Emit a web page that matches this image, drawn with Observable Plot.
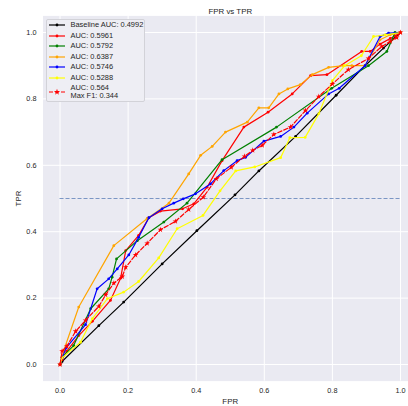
<!DOCTYPE html>
<html><head><meta charset="utf-8">
<script src="https://cdn.jsdelivr.net/npm/d3@7"></script>
<script src="https://cdn.jsdelivr.net/npm/@observablehq/plot@0.6"></script>
<style>
html,body{margin:0;padding:0;background:#fff;overflow:hidden;}
#wrap{position:relative;width:408px;height:406px;font-family:"Liberation Sans",Arial,sans-serif;color:#262626;}
#legend{position:absolute;left:46px;top:19px;width:99px;height:83px;box-sizing:border-box;border:1px solid #d2d2d8;border-radius:2px;background:#eeeef4;}
.row{position:absolute;left:0;height:10px;display:flex;align-items:center;font-size:7.45px;line-height:7.8px;white-space:pre;}
.row svg{margin-left:1.5px;margin-right:6px;flex:none;}
</style></head><body><div id="wrap"></div>
<script>
// ---- data ----
const baselineFPR = [0, 0.006, 0.114, 0.187, 0.30, 0.402, 0.514, 0.584, 0.692, 0.811, 0.896, 0.95, 1.0];
const baselineTPR = [0, 0.009, 0.117, 0.188, 0.303, 0.403, 0.511, 0.583, 0.687, 0.811, 0.90, 0.953, 1.0];

const redFPR = [0, 0.006, 0.02, 0.055, 0.095, 0.148, 0.178, 0.193, 0.231, 0.261, 0.295, 0.36, 0.393, 0.432, 0.476, 0.54, 0.611, 0.682, 0.736, 0.784, 0.886, 0.911, 0.94, 0.97, 0.985, 1.0];
const redTPR = [0, 0.015, 0.04, 0.087, 0.13, 0.193, 0.26, 0.343, 0.389, 0.442, 0.462, 0.469, 0.484, 0.534, 0.614, 0.715, 0.76, 0.815, 0.87, 0.873, 0.943, 0.943, 0.965, 0.982, 0.99, 1.0];

const greenFPR = [0, 0.006, 0.04, 0.09, 0.143, 0.153, 0.166, 0.227, 0.305, 0.373, 0.476, 0.636, 0.798, 0.906, 0.96, 0.984, 1.0];
const greenTPR = [0, 0.022, 0.057, 0.168, 0.228, 0.263, 0.318, 0.373, 0.429, 0.486, 0.617, 0.715, 0.832, 0.90, 0.943, 1.0, 1.0];

const orangeFPR = [0, 0.011, 0.055, 0.158, 0.256, 0.32, 0.378, 0.413, 0.447, 0.486, 0.55, 0.584, 0.613, 0.643, 0.669, 0.706, 0.741, 0.789, 0.833, 0.857, 0.896, 0.94, 0.97, 1.0];
const orangeTPR = [0, 0.042, 0.173, 0.358, 0.44, 0.486, 0.574, 0.63, 0.657, 0.70, 0.73, 0.773, 0.773, 0.815, 0.83, 0.843, 0.873, 0.895, 0.9, 0.9, 0.9, 0.978, 0.993, 1.0];

const blueFPR = [0, 0.006, 0.018, 0.075, 0.109, 0.143, 0.168, 0.202, 0.231, 0.261, 0.30, 0.334, 0.362, 0.398, 0.442, 0.481, 0.52, 0.545, 0.599, 0.648, 0.687, 0.726, 0.789, 0.82, 0.896, 0.94, 0.965, 1.0];
const blueTPR = [0, 0.02, 0.05, 0.12, 0.228, 0.258, 0.288, 0.33, 0.383, 0.442, 0.469, 0.486, 0.499, 0.514, 0.544, 0.584, 0.614, 0.624, 0.673, 0.687, 0.715, 0.757, 0.815, 0.832, 0.90, 0.988, 0.998, 1.0];

const yellowFPR = [0, 0.006, 0.06, 0.095, 0.139, 0.187, 0.231, 0.29, 0.344, 0.42, 0.47, 0.516, 0.572, 0.648, 0.675, 0.72, 0.76, 0.80, 0.836, 0.885, 0.921, 0.955, 1.0];
const yellowTPR = [0, 0.02, 0.067, 0.138, 0.198, 0.218, 0.25, 0.321, 0.409, 0.449, 0.523, 0.583, 0.595, 0.623, 0.683, 0.684, 0.755, 0.855, 0.90, 0.93, 0.988, 0.993, 1.0];

const dashedFPR = [0, 0.006, 0.02, 0.046, 0.075, 0.114, 0.134, 0.158, 0.183, 0.193, 0.222, 0.256, 0.295, 0.339, 0.378, 0.421, 0.459, 0.503, 0.542, 0.566, 0.594, 0.628, 0.677, 0.721, 0.76, 0.80, 0.847, 0.906, 0.945, 0.97, 0.989, 1.0];
const dashedTPR = [0, 0.04, 0.055, 0.10, 0.133, 0.175, 0.21, 0.245, 0.265, 0.293, 0.33, 0.365, 0.406, 0.431, 0.467, 0.504, 0.559, 0.594, 0.627, 0.645, 0.66, 0.693, 0.715, 0.765, 0.807, 0.845, 0.888, 0.922, 0.958, 0.973, 0.985, 1.0];

const seriesLabels = ["Baseline AUC: 0.4992", "AUC: 0.5961", "AUC: 0.5792", "AUC: 0.6387", "AUC: 0.5746", "AUC: 0.5288", "AUC: 0.564\nMax F1: 0.344"];
const seriesColors = ["black", "red", "green", "orange", "blue", "yellow", "red"];
const thresholdTPR = 0.5;
const thresholdFPRRange = [0, 1];

const xTicks = [0, 0.2, 0.4, 0.6, 0.8, 1.0];
const yTicks = [0, 0.2, 0.4, 0.6, 0.8, 1.0];
const titleText = "FPR vs TPR";
const xLabel = "FPR";
const yLabel = "TPR";

// ---- build ----
const zip = (fx, ty) => fx.map((f, i) => ({fpr: f, tpr: ty[i]}));
const solidSeries = [
  zip(baselineFPR, baselineTPR),
  zip(redFPR, redTPR),
  zip(greenFPR, greenTPR),
  zip(orangeFPR, orangeTPR),
  zip(blueFPR, blueTPR),
  zip(yellowFPR, yellowTPR)
];
const dashedSeries = zip(dashedFPR, dashedTPR);

const fmt = d3.format(".1f");
const marks = [
  Plot.frame({fill: "#EAEAF2", stroke: null}),
  Plot.gridX(xTicks, {stroke: "white", strokeOpacity: 1, strokeWidth: 1}),
  Plot.gridY(yTicks, {stroke: "white", strokeOpacity: 1, strokeWidth: 1}),
  Plot.ruleY([thresholdTPR], {x1: thresholdFPRRange[0], x2: thresholdFPRRange[1], stroke: "#4c72b0", strokeOpacity: 0.7, strokeWidth: 1.1, strokeDasharray: "4,2"})
];
solidSeries.forEach((d, i) => {
  marks.push(Plot.line(d, {x: "fpr", y: "tpr", stroke: seriesColors[i], strokeWidth: 1.2}));
  marks.push(Plot.dot(d, {x: "fpr", y: "tpr", fill: seriesColors[i], r: 1.4, stroke: null}));
});
marks.push(Plot.line(dashedSeries, {x: "fpr", y: "tpr", stroke: seriesColors[6], strokeWidth: 1.2, strokeDasharray: "4.5,2"}));
marks.push(Plot.dot(dashedSeries, {x: "fpr", y: "tpr", fill: seriesColors[6], symbol: "star", r: 1.8, stroke: null}));
marks.push(Plot.text([titleText], {frameAnchor: "top", dy: -7.5, fontSize: 7.9, fill: "#262626"}));

const chart = Plot.plot({
  width: 408, height: 406,
  marginLeft: 42.5, marginRight: -9, marginTop: 15.4, marginBottom: 25.4,
  style: {background: "#fff", fontFamily: "'Liberation Sans', Arial, sans-serif", fontSize: "7.3px", color: "#262626"},
  x: {domain: [-0.05, 1.05], ticks: xTicks, tickFormat: fmt, label: xLabel, labelAnchor: "center", labelArrow: "none", tickSize: 0, tickPadding: 6.7},
  y: {domain: [-0.05, 1.05], ticks: yTicks, tickFormat: fmt, label: yLabel, labelAnchor: "center", labelArrow: "none", tickSize: 0, tickPadding: 6.5, labelOffset: 28},
  marks
});
chart.querySelectorAll("[aria-label='x-axis label'] text, [aria-label='y-axis label'] text").forEach(t => t.setAttribute("font-size", "7.9"));
const wrap = document.getElementById("wrap");
wrap.appendChild(chart);

// ---- legend ----
const legend = document.createElement("div");
legend.id = "legend";
const rowTops = [0.3, 10.7, 21, 31.7, 42, 52.7, 63.7];
seriesLabels.forEach((lab, i) => {
  const row = document.createElement("div");
  row.className = "row";
  const isDashed = i === 6;
  row.style.top = rowTops[i] + "px";
  if (isDashed) row.style.height = "17px";
  const sw = d3.create("svg").attr("width", 16).attr("height", 8);
  sw.append("line").attr("x1", 0).attr("x2", 16).attr("y1", 4).attr("y2", 4)
    .attr("stroke", seriesColors[i]).attr("stroke-width", 1.2)
    .attr("stroke-dasharray", isDashed ? "4,2" : null);
  if (isDashed) {
    sw.append("path").attr("d", d3.symbol(d3.symbolStar, 12)()).attr("transform", "translate(8,4)").attr("fill", seriesColors[i]);
  } else {
    sw.append("circle").attr("cx", 8).attr("cy", 4).attr("r", 1.4).attr("fill", seriesColors[i]);
  }
  row.appendChild(sw.node());
  const span = document.createElement("span");
  span.textContent = lab;
  row.appendChild(span);
  legend.appendChild(row);
});
wrap.appendChild(legend);
</script></body></html>
